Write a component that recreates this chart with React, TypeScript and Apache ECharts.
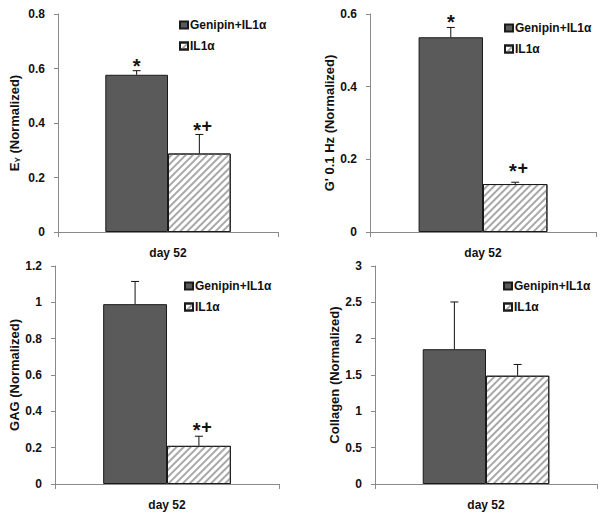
import React, { useEffect, useRef } from "react";
import * as echarts from "echarts";

const categories = ["day 52"];
const seriesNames = ["Genipin+IL1α", "IL1α"];

// Panel A: E_Y
const eyMeans = [0.577, 0.288];
const eyErrors = [0.015, 0.07];
const eySig = ["*", "*+"];
const eySigAt = [0.625, 0.391];

// Panel B: G' 0.1 Hz
const gMeans = [0.536, 0.132];
const gErrors = [0.027, 0.005];
const gSig = ["*", "*+"];
const gSigAt = [0.589, 0.18];

// Panel C: GAG
const gagMeans = [0.99, 0.21];
const gagErrors = [0.125, 0.053];
const gagSig = ["", "*+"];
const gagSigAt = [0, 0.32];

// Panel D: Collagen
const colMeans = [1.855, 1.49];
const colErrors = [0.65, 0.155];
const colSig = ["", ""];
const colSigAt = [0, 0];

const FONT = "'Liberation Sans', Arial, sans-serif";
const BAR_FRAC = 0.285;

type Panel = {
  means: number[];
  errors: number[];
  sig: string[];
  sigAt: number[];
  yName: any;
  max: number;
  interval: number;
  grid: { left: number; top: number; width: number; height: number };
  nameGap: number;
  legend: { left: number; top: number };
};

const panels: Panel[] = [
  {
    means: eyMeans, errors: eyErrors, sig: eySig, sigAt: eySigAt,
    yName: "{e|E}{s|Y}{e| (Normalized)}", max: 0.8, interval: 0.2,
    grid: { left: 58, top: 14, width: 220, height: 218 }, nameGap: 37,
    legend: { left: 179, top: 19 },
  },
  {
    means: gMeans, errors: gErrors, sig: gSig, sigAt: gSigAt,
    yName: "G' 0.1 Hz (Normalized)", max: 0.6, interval: 0.2,
    grid: { left: 370, top: 14, width: 226, height: 218 }, nameGap: 30,
    legend: { left: 504, top: 22 },
  },
  {
    means: gagMeans, errors: gagErrors, sig: gagSig, sigAt: gagSigAt,
    yName: "GAG (Normalized)", max: 1.2, interval: 0.2,
    grid: { left: 55, top: 266, width: 224, height: 218 }, nameGap: 33,
    legend: { left: 184, top: 280 },
  },
  {
    means: colMeans, errors: colErrors, sig: colSig, sigAt: colSigAt,
    yName: "Collagen (Normalized)", max: 3, interval: 0.5,
    grid: { left: 375, top: 266, width: 222, height: 218 }, nameGap: 34,
    legend: { left: 503, top: 280 },
  },
];

function buildOption() {
  const grid: any[] = [];
  const xAxis: any[] = [];
  const yAxis: any[] = [];
  const series: any[] = [];
  const legend: any[] = [];

  panels.forEach((p, i) => {
    grid.push({ ...p.grid, containLabel: false });
    xAxis.push({
      type: "category",
      gridIndex: i,
      data: categories,
      axisLine: { lineStyle: { color: "#8a8a8a", width: 1 } },
      axisTick: { show: true, length: 5, lineStyle: { color: "#8a8a8a" } },
      axisLabel: { color: "#111", fontFamily: FONT, fontWeight: "bold", fontSize: 12, margin: 15 },
    });
    yAxis.push({
      type: "value",
      gridIndex: i,
      min: 0,
      max: p.max,
      interval: p.interval,
      name: p.yName,
      nameLocation: "middle",
      nameRotate: 90,
      nameGap: p.nameGap,
      nameTextStyle: {
        color: "#111", fontFamily: FONT, fontWeight: "bold", fontSize: 13,
        rich: {
          e: { color: "#111", fontFamily: FONT, fontWeight: "bold", fontSize: 13 },
          s: { color: "#111", fontFamily: FONT, fontWeight: "bold", fontSize: 8, verticalAlign: "bottom", padding: [6, 0, 0, 0] },
        },
      },
      splitLine: { show: false },
      axisLine: { show: true, lineStyle: { color: "#8a8a8a", width: 1 } },
      axisTick: { show: true, length: 4, lineStyle: { color: "#8a8a8a" } },
      axisLabel: { color: "#111", fontFamily: FONT, fontWeight: "bold", fontSize: 12, margin: 13 },
    });

    series.push({
      type: "bar",
      name: seriesNames[0],
      xAxisIndex: i,
      yAxisIndex: i,
      data: p.means.slice(0, 1),
      barWidth: BAR_FRAC * 100 + "%",
      barGap: "0%",
      itemStyle: { color: "#5a5a5a", borderColor: "#1a1a1a", borderWidth: 1 },
    });
    series.push({
      type: "bar",
      name: seriesNames[1],
      xAxisIndex: i,
      yAxisIndex: i,
      data: p.means.slice(1, 2),
      barWidth: BAR_FRAC * 100 + "%",
      barGap: "0%",
      itemStyle: {
        color: "#ffffff",
        borderColor: "#1a1a1a",
        borderWidth: 1,
        decal: {
          symbol: "rect",
          symbolSize: 1,
          dashArrayX: [1, 0],
          dashArrayY: [2, 3],
          rotation: -Math.PI / 4,
          color: "#a8a8a8",
          backgroundColor: "#ffffff",
        },
      },
    });

    const errData = p.means.map((m, s) => [0, s, m, m + p.errors[s], p.sigAt[s]]);
    const sig = p.sig;
    series.push({
      type: "custom",
      xAxisIndex: i,
      yAxisIndex: i,
      z: 5,
      silent: true,
      data: errData,
      encode: { x: 0, y: [2, 3] },
      renderItem: (params: any, api: any) => {
        const cat = api.value(0);
        const s = api.value(1);
        const v = api.value(2);
        const top = api.value(3);
        const at = api.value(4);
        const base = api.coord([cat, v]);
        const t = api.coord([cat, top]);
        const bw = api.size([1, 0])[0];
        const x = base[0] + (s === 0 ? -0.5 : 0.5) * bw * BAR_FRAC;
        const children: any[] = [
          { type: "line", shape: { x1: x, y1: base[1], x2: x, y2: t[1] }, style: { stroke: "#111", lineWidth: 1 } },
          { type: "line", shape: { x1: x - 4, y1: t[1], x2: x + 4, y2: t[1] }, style: { stroke: "#111", lineWidth: 1 } },
        ];
        const label = sig[params.dataIndex];
        if (label) {
          const ly = api.coord([cat, at])[1];
          const hasPlus = label.indexOf("+") >= 0;
          children.push({
            type: "text",
            x: hasPlus ? x - 2.3 : x,
            y: ly + 4.4,
            style: {
              text: "*",
              fill: "#111",
              font: `bold 20px ${FONT}`,
              textAlign: "center",
              textVerticalAlign: "middle",
            },
          });
          if (hasPlus) {
            children.push({
              type: "text",
              x: x + 7.5,
              y: ly + 1,
              style: {
                text: "+",
                fill: "#111",
                font: `bold 18px ${FONT}`,
                textAlign: "center",
                textVerticalAlign: "middle",
              },
            });
          }
        }
        return { type: "group", children };
      },
    });

    legend.push({
      data: seriesNames,
      orient: "vertical",
      left: p.legend.left,
      top: p.legend.top,
      padding: 0,
      itemWidth: 8,
      itemHeight: 7,
      itemGap: 9,
      icon: "rect",
      selectedMode: false,
      textStyle: { color: "#111", fontFamily: FONT, fontWeight: "bold", fontSize: 12, padding: [0, 0, 0, -3] },
    });
  });

  return {
    animation: false,
    backgroundColor: "#ffffff",
    grid,
    xAxis,
    yAxis,
    series,
    legend,
  };
}

export default function App() {
  const ref = useRef<HTMLDivElement>(null);
  useEffect(() => {
    if (!ref.current) return;
    const chart = echarts.init(ref.current, undefined, { renderer: "svg" });
    chart.setOption(buildOption() as any);
    return () => chart.dispose();
  }, []);
  return (
    <div
      ref={ref}
      style={{ position: "fixed", left: 0, top: 0, width: 602, height: 520, background: "#fff" }}
    />
  );
}
